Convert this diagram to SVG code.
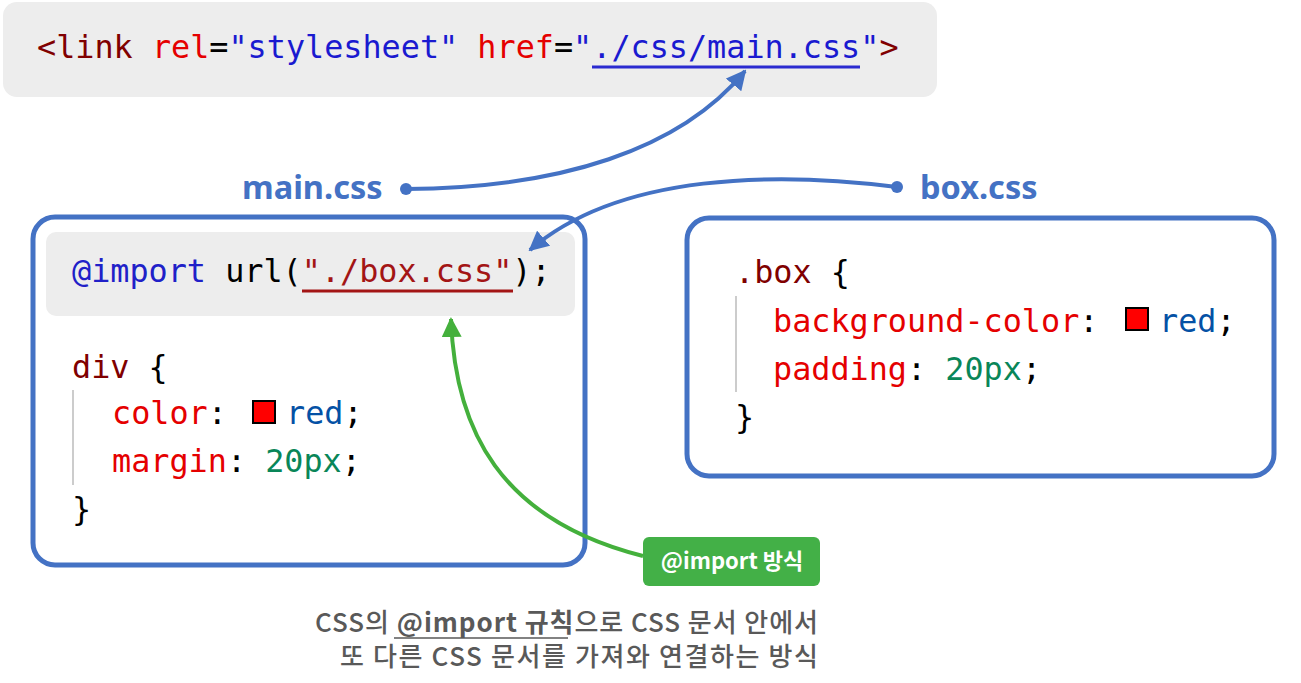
<svg xmlns="http://www.w3.org/2000/svg" width="1301" height="683" viewBox="0 0 1301 683">
<style>
.code{font-family:"DejaVu Sans Mono","Liberation Mono",monospace;font-size:31.8px}
.tag{fill:#800000}.attr{fill:#e50000}.str{fill:#1a1ad0}.blk{fill:#000}
.kw{fill:#2020c8}.sel{fill:#800000}.prop{fill:#e50000}.val{fill:#0451a5}.num{fill:#098658}.rstr{fill:#a31515}
.lbl{font-family:"Noto Sans","Noto Sans CJK KR",sans-serif;font-weight:bold;font-size:32.5px;fill:#4472c4}
.desc{font-family:"Noto Sans CJK KR",sans-serif;font-size:26px;font-weight:500;fill:#595959}
.frame{fill:#fff;stroke:#4472c4;stroke-width:5}
.gray{fill:#ededed}
.guide{stroke:#cccccc;stroke-width:2}
.sw{fill:#ff0000;stroke:#000;stroke-width:2}
</style>
<defs>
<marker id="ab" viewBox="0 0 10 10" refX="9" refY="5" markerWidth="5" markerHeight="5" orient="auto" markerUnits="strokeWidth"><path d="M0,0 L10,5 L0,10 z" fill="#4472c4"/></marker>
<marker id="ag" viewBox="0 0 10 10" refX="9" refY="5" markerWidth="5" markerHeight="5" orient="auto" markerUnits="strokeWidth"><path d="M0,0 L10,5 L0,10 z" fill="#44b03c"/></marker>
</defs>

<g id="html-link">
<rect x="3" y="2" width="934" height="95" rx="14" class="gray"/>
<text x="37" y="58" class="code"><tspan class="tag">&lt;link</tspan><tspan class="blk"> </tspan><tspan class="attr">rel</tspan><tspan class="blk">=</tspan><tspan class="str">"stylesheet"</tspan><tspan class="blk"> </tspan><tspan class="attr">href</tspan><tspan class="blk">=</tspan><tspan class="str">"./css/main.css"</tspan><tspan class="tag">&gt;</tspan></text>
<line x1="592" y1="67" x2="860" y2="67" stroke="#2a2ad0" stroke-width="3"/>
</g>

<g id="main-css">
<text x="242" y="199" class="lbl">main.css</text>
<rect x="33" y="217" width="552" height="348" rx="22" class="frame"/>
<rect x="46" y="232" width="529" height="84" rx="10" class="gray"/>
<text x="72" y="282" class="code"><tspan class="kw">@import</tspan><tspan class="blk"> url(</tspan><tspan class="rstr">"./box.css"</tspan><tspan class="blk">);</tspan></text>
<line x1="302" y1="291" x2="513" y2="291" stroke="#a31515" stroke-width="3"/>
<text x="72" y="378" class="code"><tspan class="sel">div</tspan><tspan class="blk"> {</tspan></text>
<line x1="73" y1="390" x2="73" y2="485" class="guide"/>
<text x="112" y="424" class="code"><tspan class="prop">color</tspan><tspan class="blk">:</tspan></text>
<rect x="253" y="401" width="22" height="22" class="sw"/>
<text x="286" y="424" class="code"><tspan class="val">red</tspan><tspan class="blk">;</tspan></text>
<text x="112" y="472" class="code"><tspan class="prop">margin</tspan><tspan class="blk">: </tspan><tspan class="num">20px</tspan><tspan class="blk">;</tspan></text>
<text x="72" y="520" class="code blk">}</text>
</g>

<g id="box-css">
<text x="920" y="199" class="lbl">box.css</text>
<rect x="687" y="218" width="587" height="258" rx="22" class="frame"/>
<text x="735" y="283" class="code"><tspan class="sel">.box</tspan><tspan class="blk"> {</tspan></text>
<line x1="736" y1="296" x2="736" y2="392" class="guide"/>
<text x="773" y="332" class="code"><tspan class="prop">background-color</tspan><tspan class="blk">:</tspan></text>
<rect x="1126" y="308" width="22" height="22" class="sw"/>
<text x="1159" y="332" class="code"><tspan class="val">red</tspan><tspan class="blk">;</tspan></text>
<text x="773" y="380" class="code"><tspan class="prop">padding</tspan><tspan class="blk">: </tspan><tspan class="num">20px</tspan><tspan class="blk">;</tspan></text>
<text x="735" y="428" class="code blk">}</text>
</g>

<g id="badge">
<rect x="643" y="537" width="177" height="49" rx="6" fill="#43b047"/>
<text x="732" y="569" text-anchor="middle" font-family="'Noto Sans CJK KR',sans-serif" font-weight="bold" font-size="22" fill="#fff">@import 방식</text>
</g>

<g id="caption">
<text x="315" y="632" textLength="503" class="desc">CSS의 <tspan font-weight="bold">@import 규칙</tspan>으로 CSS 문서 안에서</text>
<line x1="394" y1="638" x2="568" y2="638" stroke="#595959" stroke-width="1.5"/>
<text x="340" y="666" textLength="478" class="desc">또 다른 CSS 문서를 가져와 연결하는 방식</text>
</g>

<g id="connectors" fill="none">
<circle cx="406" cy="189" r="6" fill="#4472c4"/>
<path d="M406,189 C560,188 680,150 745,71" stroke="#4472c4" stroke-width="4" marker-end="url(#ab)"/>
<circle cx="897" cy="187" r="6" fill="#4472c4"/>
<path d="M897,187 C780,172 620,172 530,250" stroke="#4472c4" stroke-width="4" marker-end="url(#ab)"/>
<path d="M643,556 C500,520 455,430 451,319" stroke="#44b03c" stroke-width="4" marker-end="url(#ag)"/>
</g>
</svg>
